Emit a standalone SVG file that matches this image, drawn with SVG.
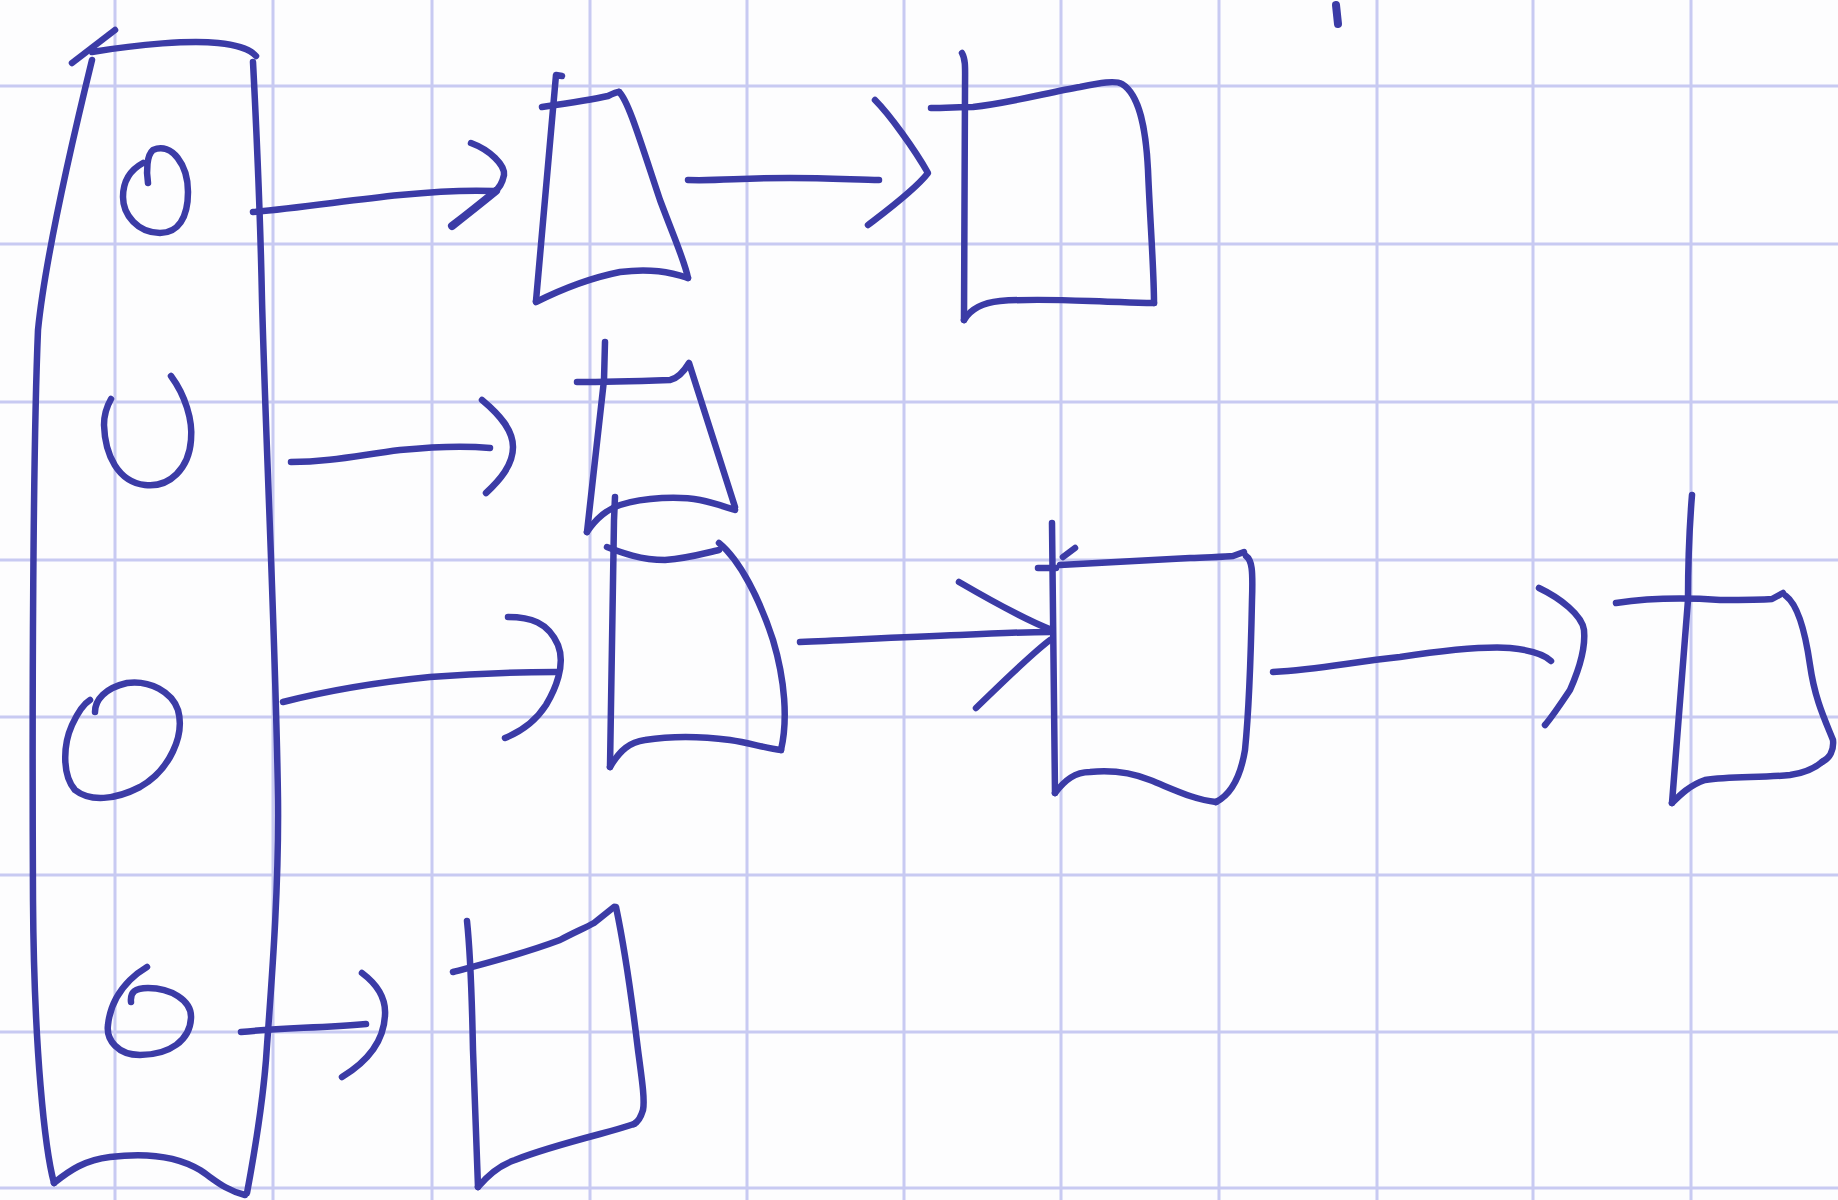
<svg xmlns="http://www.w3.org/2000/svg" width="1838" height="1200" viewBox="0 0 1838 1200">
<style>
.grid line{stroke:#c8caf2;stroke-width:3}
.ink{fill:none;stroke:#3b3ba6;stroke-width:6.5;stroke-linecap:round;stroke-linejoin:round}
.thick{stroke-width:8}
</style>
<rect width="1838" height="1200" fill="#fdfdfe"/>
<g class="grid">
<line x1="115" y1="0" x2="115" y2="1200"/><line x1="273" y1="0" x2="273" y2="1200"/><line x1="432" y1="0" x2="432" y2="1200"/><line x1="590" y1="0" x2="590" y2="1200"/><line x1="747" y1="0" x2="747" y2="1200"/><line x1="904" y1="0" x2="904" y2="1200"/><line x1="1061" y1="0" x2="1061" y2="1200"/><line x1="1219" y1="0" x2="1219" y2="1200"/><line x1="1377" y1="0" x2="1377" y2="1200"/><line x1="1533" y1="0" x2="1533" y2="1200"/><line x1="1691" y1="0" x2="1691" y2="1200"/>
<line x1="0" y1="86" x2="1838" y2="86"/><line x1="0" y1="244" x2="1838" y2="244"/><line x1="0" y1="402" x2="1838" y2="402"/><line x1="0" y1="560" x2="1838" y2="560"/><line x1="0" y1="717" x2="1838" y2="717"/><line x1="0" y1="875" x2="1838" y2="875"/><line x1="0" y1="1032" x2="1838" y2="1032"/><line x1="0" y1="1188" x2="1838" y2="1188"/>
</g>
<g id="array" class="ink">
<path d="M72,63 L115,30"/>
<path d="M92,52 C140,44 190,40 218,43 C238,45 250,49 256,56"/>
<path d="M253,62 C256,120 260,200 262,300 C266,450 276,650 278,800 C279,900 270,1000 266,1060 C262,1110 255,1150 247,1193"/>
<path d="M92,60 C70,150 45,260 38,330 C33,450 32,700 33,900 C34,1050 45,1150 54,1183"/>
<path d="M54,1183 C70,1170 85,1160 110,1157 C150,1152 180,1158 200,1170 C215,1180 225,1190 245,1195"/>
</g>
<g id="slot1" class="ink"><path d="M148,183 C146,170 147,155 153,150 C172,142 188,165 188,192 C188,218 178,233 160,233 C138,233 123,215 123,197 C123,182 130,170 143,163"/></g>
<g id="slot2" class="ink"><path d="M171,376 C185,395 193,420 191,440 C189,468 170,488 145,485 C118,482 105,455 104,425 C104,415 107,406 111,399"/></g>
<g id="slot3" class="ink"><path d="M95,712 C95,700 105,688 127,683 C150,680 172,692 178,710 C185,735 170,770 140,787 C115,800 90,802 75,790 C62,775 63,745 72,725 C78,712 85,703 90,700"/></g>
<g id="slot4" class="ink"><path d="M131,1002 C130,992 135,988 148,988 C170,988 192,1000 191,1018 C190,1040 170,1055 140,1055 C118,1055 106,1040 108,1025 C110,1005 120,990 130,980 C137,973 142,970 147,967"/></g>
<g id="nodeA1" class="ink">
<path d="M562,76 L556,75 L536,301"/>
<path d="M542,107 C570,103 595,99 608,96 C612,94 616,92 619,92"/>
<path d="M619,92 C628,100 640,140 660,200 C675,240 685,262 688,278"/>
<path d="M536,302 C560,290 590,278 620,272 C650,268 670,272 688,278"/>
</g>
<g id="nodeA2" class="ink">
<path d="M962,53 C966,60 965,70 965,90 L964,320"/>
<path d="M931,108 C945,108 960,107 973,107 C1010,103 1050,92 1080,87 C1100,83 1115,80 1122,84 C1140,95 1146,130 1148,170 C1150,220 1154,270 1154,303"/>
<path d="M964,320 C970,310 980,303 1000,301 C1040,298 1080,301 1120,302 C1140,303 1150,303 1154,303"/>
</g>
<g id="nodeB" class="ink">
<path d="M605,342 L604,380 L587,532"/>
<path d="M577,382 C605,382 640,381 670,380 C680,378 686,368 689,363 L735,507"/>
<path d="M587,532 C595,520 605,510 620,505 C645,497 680,496 700,500 C715,503 725,507 735,510"/>
</g>
<g id="nodeC1" class="ink">
<path d="M615,497 L614,520 L610,767"/>
<path d="M607,547 C620,552 640,560 665,560 C690,558 705,553 719,550"/>
<path d="M719,543 C740,560 760,600 773,640 C785,680 788,720 781,750"/>
<path d="M610,767 C620,750 630,742 645,740 C670,736 700,736 730,740 C750,743 765,748 781,750"/>
</g>
<g id="nodeC2" class="ink">
<path d="M1052,523 L1055,793"/>
<path d="M1038,568 L1056,568"/>
<path d="M1063,557 L1075,548"/>
<path d="M1060,565 C1100,563 1150,560 1190,558 C1210,557 1225,557 1233,556 L1244,552"/>
<path d="M1246,556 C1252,560 1253,570 1252,600 C1251,650 1250,700 1245,750 C1240,780 1230,795 1216,802"/>
<path d="M1055,793 C1065,780 1075,772 1090,772 C1110,770 1130,772 1150,780 C1175,790 1195,800 1216,802"/>
</g>
<g id="nodeC3" class="ink">
<path d="M1692,495 C1690,520 1688,560 1688,600 L1672,803"/>
<path d="M1616,603 C1650,598 1690,598 1720,600 C1740,600 1760,600 1772,599 L1783,593"/>
<path d="M1786,596 C1798,605 1805,630 1810,665 C1815,700 1825,720 1833,740 C1834,750 1830,758 1822,762"/>
<path d="M1672,803 C1680,795 1690,785 1705,780 C1730,776 1760,778 1790,775 C1805,773 1815,768 1822,762"/>
</g>
<g id="nodeD" class="ink">
<path d="M467,921 C470,950 472,1000 473,1050 L478,1187"/>
<path d="M453,972 C480,965 520,955 560,940 C575,932 585,928 594,923 L614,907"/>
<path d="M616,907 C625,950 632,1000 638,1050 C642,1080 645,1100 643,1110 C640,1120 636,1123 634,1124"/>
<path d="M478,1187 C488,1175 500,1165 515,1160 C540,1150 570,1142 600,1134 C615,1130 625,1127 634,1124"/>
</g>
<g id="connectors" class="ink">
<path d="M253,212 C300,208 350,200 400,195 C440,191 470,190 494,191"/>
<path d="M471,143 C490,150 505,165 504,175 C502,185 497,190 494,192"/>
<path class="thick" d="M452,226 C470,212 485,200 496,191"/>
<path d="M688,180 C720,181 740,178 790,178 C830,178 860,180 879,180"/>
<path d="M875,100 C890,115 915,150 928,173 C915,190 885,212 868,225"/>
<path d="M291,462 C330,462 360,455 400,450 C440,446 470,446 490,448"/>
<path d="M482,400 C500,415 513,430 513,447 C513,465 500,480 486,493"/>
<path d="M283,702 C330,690 380,682 430,677 C490,672 530,672 556,672"/>
<path d="M508,617 C530,617 548,622 558,645 C566,665 555,690 546,705 C535,722 520,732 505,738"/>
<path d="M800,642 C850,640 900,637 960,635 C1000,633 1030,632 1050,632"/>
<path d="M959,582 C990,600 1025,620 1052,630"/>
<path d="M976,708 C1000,685 1030,655 1050,640"/>
<path d="M1273,672 C1320,670 1350,662 1400,657 C1440,651 1480,646 1510,648 C1530,650 1545,655 1551,661"/>
<path d="M1539,588 C1560,598 1582,615 1584,630 C1586,650 1578,672 1570,690 C1560,705 1552,717 1545,725"/>
<path d="M241,1032 C280,1028 320,1028 366,1024"/>
<path d="M362,973 C378,985 386,1000 385,1015 C384,1040 370,1060 342,1077"/>
</g>
<path class="ink thick" d="M1336,5 L1338,24"/>
</svg>
